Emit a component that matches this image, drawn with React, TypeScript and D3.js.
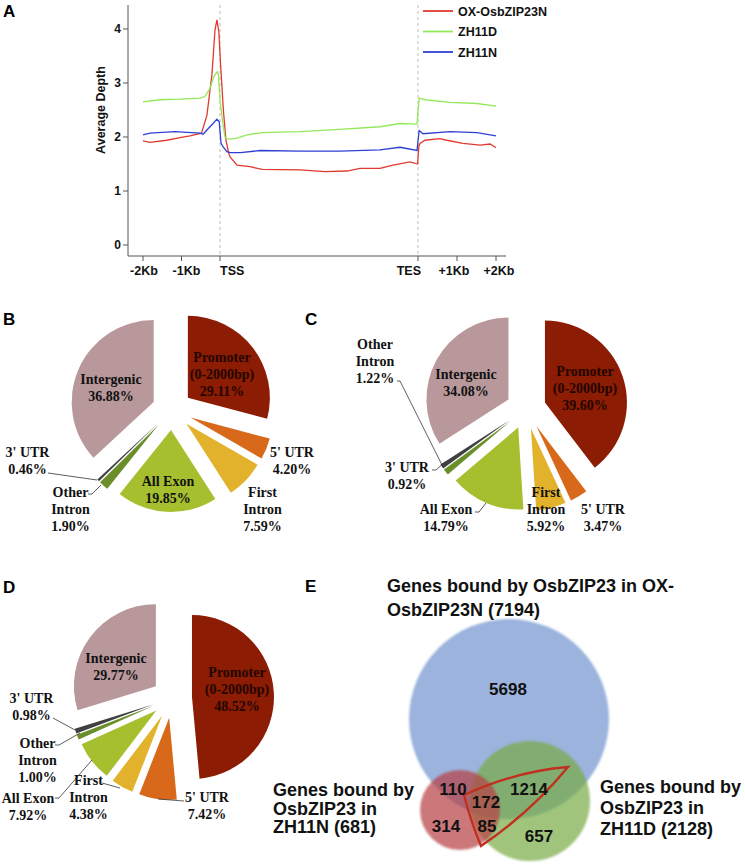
import React from 'react';
import * as d3 from 'd3';

const SANS = "'Liberation Sans', Arial, Helvetica, sans-serif";
const SERIF = "'Liberation Serif', 'Times New Roman', Times, serif";

// ---------------- Panel A : average depth profiles ----------------
// position axis: 0..20 = -2Kb..TSS, 20..120 = gene body (scaled), 120..140 = TES..+2Kb
const SERIES = ['OX-OsbZIP23N', 'ZH11D', 'ZH11N'];
const SERIES_COLORS = ['#e03a2f', '#93e85a', '#2e40d4'];

const RED_POS = [0, 1.8, 6.2, 9.6, 12.2, 15.2, 16.6, 17.9, 18.7, 19.2, 19.7, 20.2, 21.7, 23.0, 24.4, 25.1, 28.6, 35.2, 41.3, 60.4, 73.0, 84.1, 90.7, 100.8, 107.4, 116.0, 119.8, 120.2, 120.5, 121.8, 125.6, 127.4, 131.5, 135.9, 138.5, 140];
const RED_VAL = [1.93, 1.90, 1.94, 1.99, 2.02, 2.07, 2.40, 3.15, 3.98, 4.17, 3.95, 3.40, 2.50, 1.94, 1.70, 1.63, 1.48, 1.45, 1.40, 1.39, 1.36, 1.37, 1.42, 1.42, 1.48, 1.54, 1.50, 1.82, 1.88, 1.94, 1.97, 1.94, 1.88, 1.85, 1.87, 1.80];

const GREEN_POS = [0, 4.4, 9.6, 14.8, 16.1, 17.4, 18.4, 19.3, 19.6, 20.0, 21.2, 22.5, 23.4, 25.1, 28.6, 33.6, 41.1, 60.4, 80.6, 100.8, 110.9, 119.5, 120.3, 121.8, 128.2, 135.1, 140];
const GREEN_VAL = [2.65, 2.69, 2.70, 2.72, 2.75, 2.90, 3.12, 3.21, 3.15, 2.69, 2.31, 2.00, 1.97, 1.96, 1.98, 2.04, 2.08, 2.10, 2.14, 2.19, 2.25, 2.24, 2.72, 2.69, 2.64, 2.62, 2.57];

const BLUE_POS = [0, 1.8, 8.3, 14.8, 15.6, 16.6, 18.2, 19.2, 19.8, 20.5, 21.5, 23.5, 25.1, 30.3, 40.4, 60.4, 80.6, 100.8, 110.9, 119.5, 120.3, 121.3, 128.2, 135.1, 140];
const BLUE_VAL = [2.04, 2.07, 2.10, 2.07, 2.05, 2.13, 2.25, 2.33, 2.28, 1.89, 1.82, 1.73, 1.71, 1.71, 1.75, 1.74, 1.74, 1.76, 1.81, 1.75, 2.12, 2.06, 2.10, 2.08, 2.02];

const X_TICK_POS = [0, 10, 20, 120, 130, 140];
const X_TICK_LABELS = ['-2Kb', '-1Kb', 'TSS', 'TES', '+1Kb', '+2Kb'];
const X_TICK_ANCHOR = ['middle', 'middle', 'start', 'end', 'middle', 'middle'];
const X_TICK_SHIFT = [1, 5, 0, 3, -3, 3];
const Y_TICKS = [0, 1, 2, 3, 4];
const MARKER_POS = [20, 120];

// ---------------- Panels B, C, D : peak distribution pies ----------------
const CATEGORIES = ['Promoter', "5' UTR", 'First Intron', 'All Exon', 'Other Intron', "3' UTR", 'Intergenic'];
const CAT_LINES = [['Promoter', '(0-2000bp)'], ["5' UTR"], ['First', 'Intron'], ['All Exon'], ['Other', 'Intron'], ["3' UTR"], ['Intergenic']];
const CAT_COLORS = ['#8c1c03', '#d8691b', '#e3b22c', '#a6bf2e', '#6a8f2a', '#404040', '#b8989a'];
const PIE_B = [29.11, 4.20, 7.59, 19.85, 1.90, 0.46, 36.88];
const PIE_C = [39.60, 3.47, 5.92, 14.79, 1.22, 0.92, 34.08];
const PIE_D = [48.52, 7.42, 4.38, 7.92, 1.00, 0.98, 29.77];

// ---------------- Panel E : Venn diagram ----------------
const VENN_SETS = ['OX-OsbZIP23N', 'ZH11D', 'ZH11N'];
const VENN_TOTALS = [7194, 2128, 681];
const VENN_REGIONS = ['OX only', 'OX & ZH11N', 'all three', 'OX & ZH11D', 'ZH11N only', 'ZH11N & ZH11D', 'ZH11D only'];
const VENN_COUNTS = [5698, 110, 172, 1214, 314, 85, 657];

// ---------------- layout ----------------
const PIE_R = 82;
const EXPLODE = 20;
const LINE_H = 17;

const PIE_LAYOUT = [
  {
    letter: 'B', values: PIE_B, cx: 172, cy: 410,
    labels: [[50, -53], [120, 42], [90.5, 82], [-4, 71], [-101.5, 82], [-144.5, 42], [-61, -31]],
    leaders: [
      [[-124, 63], [-75, 70]],
      [[-84, 84], [-80, 84], [-71, 75]],
    ],
  },
  {
    letter: 'C', values: PIE_C, cx: 526, cy: 409,
    labels: [[59, -38], [77, 100], [20, 83], [-80, 100], [-151, -65], [-119, 58], [-60, -35]],
    leaders: [
      [[-129, -28], [-126, -28], [-84, 56]],
      [[-94, 61], [-90, 61], [-81, 53]],
      [[-51, 103], [-47, 103], [-40, 94]],
    ],
  },
  {
    letter: 'D', values: PIE_D, cx: 172, cy: 698,
    labels: [[65, -26], [35, 99], [-83.5, 82], [-144, 100], [-134.5, 45], [-140.5, 0], [-56, -40]],
    leaders: [
      [[-119, 20], [-97, 32]],
      [[-117, 47], [-113, 47], [-92, 35]],
      [[-117, 100], [-113, 100], [-80, 62]],
      [[-70, 85], [-52, 90]],
      [[-14, 101], [12, 103]],
    ],
  },
];

const VENN_CIRCLES = [
  { cx: 509, cy: 719, r: 100, fill: '#6f93cf' },
  { cx: 530, cy: 801, r: 60, fill: '#77ab45' },
  { cx: 460, cy: 810, r: 40, fill: '#b63e45' },
];
const VENN_COUNT_AT = [[508, 689], [453, 789], [486, 802], [529, 789], [446, 826], [487, 826], [539, 836]];
const VENN_TITLES = [
  { x: 387, y: 591.5, dy: 24, lines: ['Genes bound by OsbZIP23 in OX-', 'OsbZIP23N (7194)'] },
  { x: 600, y: 793, dy: 21, lines: ['Genes bound by', 'OsbZIP23 in', 'ZH11D (2128)'] },
  { x: 273, y: 796, dy: 18.5, lines: ['Genes bound by', 'OsbZIP23 in', 'ZH11N (681)'] },
];
const HIGHLIGHT = [[464, 795], [568, 767], [481, 846]];

function ProfilePanel() {
  const x = d3.scaleLinear().domain([0, 20, 120, 140]).range([143, 220, 418, 496]);
  const y = d3.scaleLinear().domain([0, 4]).range([245, 29]);
  const line = d3.line<[number, number]>().x(d => x(d[0])).y(d => y(d[1]));
  const series = [
    d3.zip(RED_POS, RED_VAL) as [number, number][],
    d3.zip(GREEN_POS, GREEN_VAL) as [number, number][],
    d3.zip(BLUE_POS, BLUE_VAL) as [number, number][],
  ];
  const axisX0 = 128, axisX1 = 506, axisY = 256, axisTop = 5;
  return (
    <g>
      <text x={3} y={17} fontFamily={SANS} fontWeight="bold" fontSize={17}>A</text>
      {MARKER_POS.map((p, i) => (
        <line key={i} x1={x(p)} x2={x(p)} y1={axisTop} y2={axisY} stroke="#bdbdbd" strokeWidth={1} strokeDasharray="3,3" />
      ))}
      <line x1={axisX0} x2={axisX0} y1={axisTop} y2={axisY} stroke="#555" strokeWidth={1} />
      <line x1={axisX0} x2={axisX1} y1={axisY} y2={axisY} stroke="#555" strokeWidth={1} />
      {Y_TICKS.map(t => (
        <g key={t}>
          <line x1={axisX0 - 5} x2={axisX0} y1={y(t)} y2={y(t)} stroke="#555" />
          <text x={axisX0 - 7} y={y(t) + 4.4} textAnchor="end" fontFamily={SANS} fontWeight="bold" fontSize={12} fill="#111">{t}</text>
        </g>
      ))}
      {X_TICK_POS.map((p, i) => (
        <g key={i}>
          <line x1={x(p)} x2={x(p)} y1={axisY} y2={axisY + 5} stroke="#555" />
          <text x={x(p) + X_TICK_SHIFT[i]} y={274.5} textAnchor={X_TICK_ANCHOR[i] as any} fontFamily={SANS} fontWeight="bold" fontSize={12.5} fill="#111">{X_TICK_LABELS[i]}</text>
        </g>
      ))}
      <text transform="translate(105,110) rotate(-90)" textAnchor="middle" fontFamily={SANS} fontWeight="bold" fontSize={12.5} fill="#111">Average Depth</text>
      {series.map((s, i) => (
        <path key={i} d={line(s) || ''} fill="none" stroke={SERIES_COLORS[i]} strokeWidth={1.3} />
      ))}
      {SERIES.map((name, i) => (
        <g key={name}>
          <line x1={423} x2={453} y1={11 + i * 20.5} y2={11 + i * 20.5} stroke={SERIES_COLORS[i]} strokeWidth={1.8} />
          <text x={458} y={11 + i * 20.5 + 4.5} fontFamily={SANS} fontWeight="bold" fontSize={12.5} fill="#111">{name}</text>
        </g>
      ))}
    </g>
  );
}

function PiePanel({ cfg }: { cfg: typeof PIE_LAYOUT[number] }) {
  const arcs = d3.pie<number>().sort(null).value(d => d)(cfg.values);
  const arc = d3.arc<d3.PieArcDatum<number>>().innerRadius(0).outerRadius(PIE_R);
  const { cx, cy } = cfg;
  const lx = cfg.letter === 'C' ? 305 : 3;
  const ly = cfg.letter === 'D' ? 593 : 325;
  return (
    <g>
      <text x={lx} y={ly} fontFamily={SANS} fontWeight="bold" fontSize={17}>{cfg.letter}</text>
      {arcs.map((a, i) => {
        const mid = (a.startAngle + a.endAngle) / 2;
        const dx = Math.sin(mid) * EXPLODE;
        const dy = -Math.cos(mid) * EXPLODE;
        return <path key={i} d={arc(a) || ''} transform={`translate(${cx + dx},${cy + dy})`} fill={CAT_COLORS[i]} />;
      })}
      {cfg.leaders.map((pts, i) => (
        <polyline key={i} points={pts.map(p => `${cx + p[0]},${cy + p[1]}`).join(' ')} fill="none" stroke="#333" strokeWidth={0.8} />
      ))}
      {CATEGORIES.map((c, i) => {
        const lines = [...CAT_LINES[i], cfg.values[i].toFixed(2) + '%'];
        const [ox, oy] = cfg.labels[i];
        return (
          <text key={c} textAnchor="middle" fontFamily={SERIF} fontWeight="bold" fontSize={14} fill={i === 0 ? '#240600' : '#111'}>
            {lines.map((t, k) => (
              <tspan key={k} x={cx + ox} y={cy + oy + k * LINE_H + 4.8}>{t}</tspan>
            ))}
          </text>
        );
      })}
    </g>
  );
}

function VennPanel() {
  const [a, b, c] = HIGHLIGHT;
  const q1 = [(a[0] + b[0]) / 2 + 1, (a[1] + b[1]) / 2 - 10];
  const q2 = [(b[0] + c[0]) / 2 + 6, (b[1] + c[1]) / 2 + 6];
  const path = d3.path();
  path.moveTo(a[0], a[1]);
  path.quadraticCurveTo(q1[0], q1[1], b[0], b[1]);
  path.quadraticCurveTo(q2[0], q2[1], c[0], c[1]);
  path.quadraticCurveTo((c[0] + a[0]) / 2 - 2, (c[1] + a[1]) / 2, a[0], a[1]);
  path.closePath();
  return (
    <g>
      <defs>
        <filter id="soft" x="-10%" y="-10%" width="120%" height="120%">
          <feGaussianBlur stdDeviation={0.9} />
        </filter>
      </defs>
      <text x={305} y={592} fontFamily={SANS} fontWeight="bold" fontSize={17}>E</text>
      {VENN_CIRCLES.map((ci, i) => (
        <circle key={VENN_SETS[i]} cx={ci.cx} cy={ci.cy} r={ci.r} fill={ci.fill} fillOpacity={0.7} filter="url(#soft)" />
      ))}
      <path d={path.toString()} fill="none" stroke="#c0301f" strokeWidth={2.4} strokeLinejoin="miter" />
      {VENN_COUNTS.map((n, i) => (
        <text key={VENN_REGIONS[i]} x={VENN_COUNT_AT[i][0]} y={VENN_COUNT_AT[i][1] + 6} textAnchor="middle" fontFamily={SANS} fontWeight="bold" fontSize={17} fill="#111">{n}</text>
      ))}
      {VENN_TITLES.map((t, i) => (
        <text key={i} fontFamily={SANS} fontWeight="bold" fontSize={18} fill="#111">
          {t.lines.map((l, k) => (
            <tspan key={k} x={t.x} y={t.y + k * t.dy}>{l}</tspan>
          ))}
        </text>
      ))}
    </g>
  );
}

export default function App() {
  return (
    <svg width={745} height={867} viewBox="0 0 745 867" style={{ position: 'absolute', left: 0, top: 0, background: '#fff' }}>
      <rect width={745} height={867} fill="#fff" />
      <ProfilePanel />
      {PIE_LAYOUT.map(cfg => <PiePanel key={cfg.letter} cfg={cfg} />)}
      <VennPanel />
    </svg>
  );
}
